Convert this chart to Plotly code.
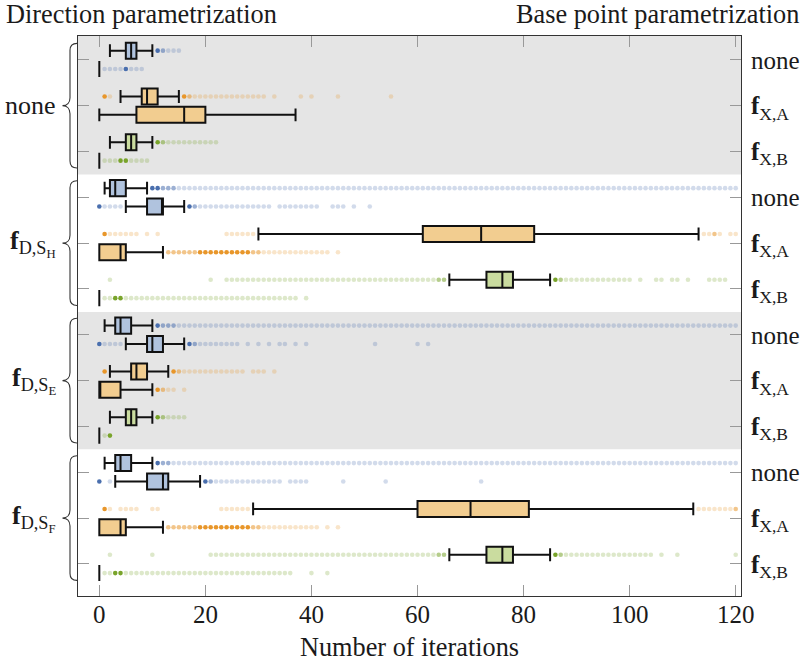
import plotly.graph_objects as go

# ---------------- data ----------------
direction_groups = ["none", "fD,SH", "fD,SE", "fD,SF"]
base_points = ["none", "fX,A", "fX,B"]
variants = ["upper", "lower"]

# order of the 8 entries: (group0 upper, group0 lower, group1 upper, group1 lower, ...)
blue_lf  = [2, 0, 1, 5, 1, 5, 1, 3]
blue_q1  = [5, 0, 2, 9, 3, 9, 3, 9]
blue_med = [6, 0, 3, 12, 4, 10, 4, 12]
blue_q3  = [7, 0, 5, 12, 6, 12, 6, 13]
blue_uf  = [10, 0, 9, 16, 10, 16, 10, 19]

orange_lf  = [4, 0, 30, 0, 2, 0, 29, 0]
orange_q1  = [8, 7, 61, 0, 6, 0, 60, 0]
orange_med = [9, 16, 72, 4, 7, 0, 70, 4]
orange_q3  = [11, 20, 82, 5, 9, 4, 81, 5]
orange_uf  = [15, 37, 113, 12, 13, 10, 112, 12]

green_lf  = [2, 0, 66, 0, 2, 0, 66, 0]
green_q1  = [5, 0, 73, 0, 5, 0, 73, 0]
green_med = [6, 0, 76, 0, 6, 0, 76, 0]
green_q3  = [7, 0, 78, 0, 7, 0, 78, 0]
green_uf  = [10, 0, 85, 0, 10, 0, 85, 0]

# outlier dots: single ints or (first, last) runs of consecutive integer counts
blue_out = [
    [(11, 15)],
    [(1, 8)],
    [(10, 120)],
    [(0, 4), (17, 32), (34, 41), 44, 45, 46, 48, 51],
    [(11, 120)],
    [(0, 4), (17, 26), 28, 30, 32, 34, 35, 37, 39, 52, 60, 62],
    [(11, 120)],
    [0, 2, (20, 34), (36, 39), 46, 54, 72],
]
blue_dark = [[11], [5], [10, 11], [0, 17], [11], [0, 17], [11], [0, 20]]
blue_mid  = [[12], [], [(12, 14)], [18], [(12, 14)], [18], [12, 13], [21]]

orange_out = [
    [1, 2, (16, 31), 33, 38, 40, 45, 55],
    [],
    [1, (2, 7), 9, 11, (24, 29), (114, 117), 119, 120],
    [(13, 43), 45],
    [1, (14, 27), 29, 30, 31, 33],
    [11, 12, 13, 14, 16],
    [1, 2, (4, 7), 10, 11, (23, 28), (113, 120)],
    [(13, 41), 43, 45],
]
orange_dark = [[1, 16], [], [1], [(19, 28)], [1, 14], [11], [1], [(19, 28)]]
orange_mid  = [[17], [], [116], [(13, 18), 29, 30], [15], [12], [120], [(13, 18), 29, 30]]

green_out = [
    [(11, 22)],
    [(1, 9)],
    [2, 21, (24, 65), (86, 100), 102, 105, 106, 108, 109, 111, (115, 118)],
    [(1, 37), 39],
    [(11, 16)],
    [1, 2],
    [2, 10, (21, 65), (86, 104), 106, 109, 120],
    [(1, 36), 40, 43],
]
green_dark = [[11], [4, 5], [86], [3, 4], [11], [2], [86], [3, 4]]
green_mid  = [[12], [], [64, 65, 87], [], [12], [], [64, 65, 87], []]

tick_labels = ["none", "<b>f</b><sub>X,A</sub>", "<b>f</b><sub>X,B</sub>"]
group_labels = ["none",
                "<b>f</b><sub>D,S<sub>H</sub></sub>",
                "<b>f</b><sub>D,S<sub>E</sub></sub>",
                "<b>f</b><sub>D,S<sub>F</sub></sub>"]

# ---------------- styling ----------------
FONT = "Liberation Serif, DejaVu Serif, Times New Roman, serif"
TXT = "#1a1a1a"
colors = {
    "blue":   dict(fill="#b0c3de", dot="#4a6fae"),
    "orange": dict(fill="#f2cd90", dot="#e8962a"),
    "green":  dict(fill="#cadc9f", dot="#79a42b"),
}
L, R, T, B = 78, 64, 36, 72
W, H = 805 - L - R, 668 - T - B
YR = [11.70, -0.52]
XR = [-4.02, 121.0]
OFF = 0.2


def expand(items):
    out = []
    for it in items:
        if isinstance(it, tuple):
            out.extend(range(it[0], it[1] + 1))
        else:
            out.append(it)
    return out


def row_pos(b):
    return [3 * g + b + (-OFF if v == 0 else OFF) for g in range(4) for v in range(2)]


fig = go.Figure()

series = [
    ("blue", 0, blue_lf, blue_q1, blue_med, blue_q3, blue_uf, blue_out, blue_dark, blue_mid),
    ("orange", 1, orange_lf, orange_q1, orange_med, orange_q3, orange_uf, orange_out, orange_dark, orange_mid),
    ("green", 2, green_lf, green_q1, green_med, green_q3, green_uf, green_out, green_dark, green_mid),
]

for name, b, lf, q1, med, q3, uf, outs, darks, mids in series:
    pos = row_pos(b)
    fig.add_trace(go.Box(
        orientation="h", y=pos, q1=q1, median=med, q3=q3,
        lowerfence=lf, upperfence=uf, width=0.35, whiskerwidth=0.8,
        fillcolor=colors[name]["fill"], line=dict(color="#111111", width=2),
        boxpoints=False, hoverinfo="skip",
    ))
    xs, ys, ops = [], [], []
    for i, o in enumerate(outs):
        dk = set(expand(darks[i]))
        md = set(expand(mids[i]))
        for v in expand(o):
            xs.append(v)
            ys.append(pos[i])
            ops.append(1.0 if v in dk else (0.55 if v in md else 0.25))
    fig.add_trace(go.Scatter(
        x=xs, y=ys, mode="markers", hoverinfo="skip",
        marker=dict(size=4.6, color=colors[name]["dot"], opacity=ops, line=dict(width=0)),
    ))

shapes = []
for y0, y1 in [(-1, 2.5), (5.5, 8.5)]:
    shapes.append(dict(type="rect", xref="paper", yref="y", x0=0, x1=1, y0=y0, y1=y1,
                       fillcolor="#e5e5e5", line=dict(width=0), layer="below"))

PXU = H / (YR[0] - YR[1])


def px2x(px):
    return (px - L) / W


for g in range(4):
    k = 3 * g
    top = k - 0.36
    bot = k + 2.36
    mid = k + 1
    d = lambda p: p / PXU
    xt, xs_, xp = px2x(77), px2x(70), px2x(62.5)
    xc = px2x(72.5)
    xq = px2x(67)
    path = (f"M {xt},{top} C {xc},{top} {xs_},{top + d(2.5)} {xs_},{top + d(7)} "
            f"L {xs_},{mid - d(8)} C {xs_},{mid - d(3)} {xq},{mid} {xp},{mid} "
            f"C {xq},{mid} {xs_},{mid + d(3)} {xs_},{mid + d(8)} "
            f"L {xs_},{bot - d(7)} C {xs_},{bot - d(2.5)} {xc},{bot} {xt},{bot}")
    shapes.append(dict(type="path", xref="paper", yref="y", path=path,
                       line=dict(color="#333333", width=1.1)))

annotations = []
for g, lab in enumerate(group_labels):
    annotations.append(dict(text=lab, xref="paper", yref="y", x=px2x(58), y=3 * g + 1,
                            xanchor="right", yanchor="middle", showarrow=False,
                            font=dict(family=FONT, size=26, color=TXT)))
annotations.append(dict(text="Direction parametrization", xref="paper", yref="paper",
                        x=px2x(4), y=1 + (T - 15) / H, xanchor="left", yanchor="middle",
                        showarrow=False, font=dict(family=FONT, size=26.3, color=TXT)))
annotations.append(dict(text="Base point parametrization", xref="paper", yref="paper",
                        x=px2x(801), y=1 + (T - 15) / H, xanchor="right", yanchor="middle",
                        showarrow=False, font=dict(family=FONT, size=26.3, color=TXT)))

fig.update_layout(
    width=805, height=668, margin=dict(l=L, r=R, t=T, b=B, autoexpand=False),
    paper_bgcolor="white", plot_bgcolor="white", showlegend=False,
    boxmode="overlay", shapes=shapes, annotations=annotations,
    font=dict(family=FONT, size=25, color=TXT),
    xaxis=dict(range=XR, tickvals=[0, 20, 40, 60, 80, 100, 120], ticks="inside", ticklen=11,
               tickcolor="#999999", showline=True, linecolor="#333333", linewidth=1,
               mirror="ticks", showgrid=False, zeroline=False, automargin=False,
               ticklabelstandoff=-4,
               tickfont=dict(family=FONT, size=25, color=TXT),
               title=dict(text="Number of iterations", standoff=10,
                          font=dict(family=FONT, size=26.3, color=TXT))),
    yaxis=dict(range=YR, tickvals=list(range(12)), ticktext=tick_labels * 4, side="right",
               ticks="inside", ticklen=11, tickcolor="#999999", showline=True,
               linecolor="#333333", linewidth=1, mirror="ticks", showgrid=False,
               zeroline=False, ticklabelstandoff=4, automargin=False,
               tickfont=dict(family=FONT, size=25, color=TXT)),
)

fig.write_html("out.html")
